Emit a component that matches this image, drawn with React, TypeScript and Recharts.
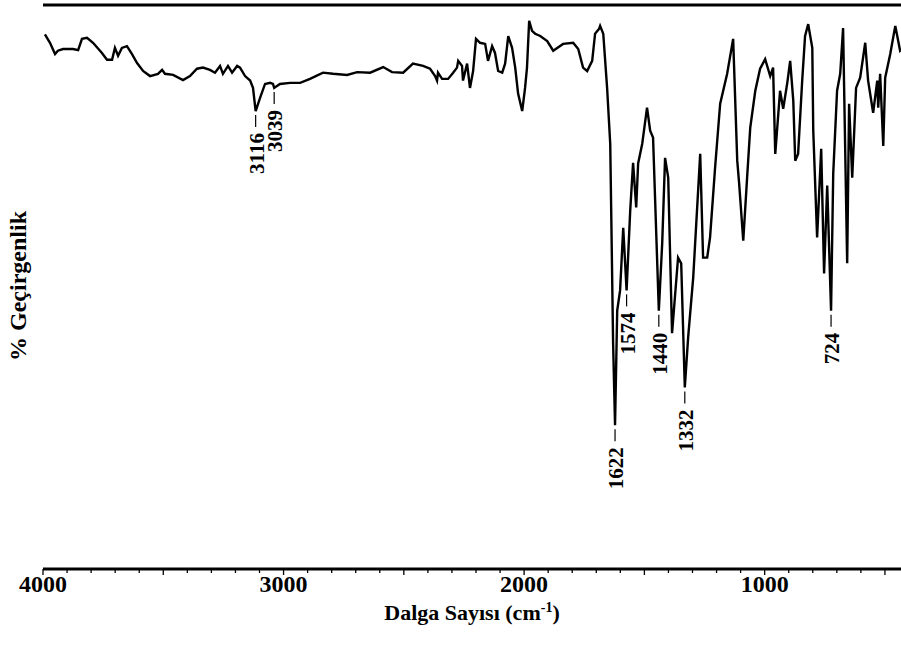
import React from 'react';
import { LineChart, Line, XAxis, YAxis, ReferenceLine, ReferenceDot, Label } from 'recharts';

const wavenumbers = [
  3992, 3971, 3950, 3938, 3917, 3875, 3854, 3838, 3817, 3792, 3755, 3734, 3713, 3701, 3688, 3672,
  3651, 3630, 3609, 3584, 3555, 3522, 3505, 3493, 3459, 3418, 3389, 3360, 3335, 3306, 3285, 3264,
  3252, 3231, 3214, 3193, 3181, 3160, 3139, 3127, 3116, 3098, 3077, 3056, 3044, 3039, 3015, 2973,
  2940, 2931, 2890, 2836, 2794, 2736, 2694, 2640, 2586, 2549, 2503, 2462, 2420, 2391, 2370, 2362,
  2358, 2341, 2316, 2295, 2279, 2274, 2258, 2254, 2237, 2225, 2212, 2200, 2183, 2162, 2150, 2133,
  2121, 2108, 2091, 2079, 2066, 2050, 2037, 2025, 2008, 1996, 1988, 1979, 1967, 1954, 1933, 1904,
  1879, 1838, 1796, 1775, 1755, 1738, 1717, 1705, 1688, 1684, 1671, 1655, 1642, 1630, 1622, 1613,
  1601, 1588, 1574, 1559, 1547, 1534, 1526, 1509, 1489, 1476, 1464, 1440, 1426, 1414, 1401, 1385,
  1360, 1347, 1332, 1318, 1297, 1268, 1256, 1239, 1227, 1206, 1185, 1156, 1131, 1114, 1106, 1089,
  1073, 1060, 1039, 1019, 998, 977, 965, 956, 936, 923, 906, 894, 881, 873, 861, 844,
  832, 819, 802, 798, 782, 765, 753, 740, 724, 715, 699, 686, 674, 657, 649, 636,
  620, 603, 582, 570, 549, 532, 528, 520, 507, 499, 478, 457, 437, 416, 400,
];

// % transmittance (relative)
const transmittance = [
  94.8, 93.3, 91.3, 91.9, 92.2, 92.2, 92.0, 94.0, 94.2, 93.3, 91.5, 90.3, 90.3, 92.4, 91.0, 92.4,
  92.7, 91.3, 89.7, 88.3, 87.4, 87.8, 88.5, 87.8, 87.6, 86.7, 87.4, 88.7, 88.9, 88.5, 88.0, 89.2,
  87.8, 89.2, 88.0, 89.2, 88.9, 87.4, 86.6, 85.3, 81.2, 83.5, 86.0, 86.2, 86.0, 85.3, 86.0, 86.2,
  86.2, 86.2, 86.9, 88.0, 87.8, 87.6, 88.1, 88.0, 89.0, 88.1, 88.0, 89.6, 89.2, 88.7, 87.4, 86.6,
  88.0, 86.9, 86.9, 88.0, 88.9, 90.1, 89.2, 86.6, 89.6, 85.3, 88.3, 94.0, 93.3, 93.1, 90.1, 92.7,
  91.5, 88.3, 88.0, 89.6, 94.5, 92.4, 88.9, 84.3, 81.2, 85.3, 88.9, 97.2, 95.4, 94.9, 94.5, 93.6,
  91.9, 93.1, 93.3, 92.2, 88.9, 88.3, 90.1, 94.9, 95.8, 96.3, 94.9, 85.3, 75.4, 40.0, 25.5, 45.8,
  49.4, 60.5, 49.4, 63.5, 72.0, 64.1, 71.9, 75.4, 81.8, 77.7, 76.5, 45.8, 57.7, 72.9, 69.4, 41.8,
  55.2, 54.2, 32.2, 41.1, 51.7, 73.6, 55.2, 55.2, 58.8, 71.2, 82.5, 87.8, 94.0, 72.4, 68.3, 58.2,
  69.4, 78.2, 84.8, 88.7, 90.4, 87.4, 88.9, 73.6, 84.8, 81.6, 86.2, 90.1, 83.0, 72.4, 73.6, 86.6,
  94.5, 96.6, 92.4, 77.7, 58.8, 74.5, 52.4, 68.0, 45.8, 70.1, 84.8, 87.8, 95.9, 54.2, 82.5, 69.4,
  85.3, 87.1, 93.3, 86.6, 80.9, 86.6, 81.8, 87.8, 75.0, 87.1, 91.3, 96.3, 91.9, 92.7, 92.2,
];

const peakLabels = [3116, 3039, 1622, 1574, 1440, 1332, 724];
const majorTicks = [4000, 3000, 2000, 1000];
const allTicks = Array.from({ length: 37 }, (_, i) => 4000 - i * 100);

const data = wavenumbers.map((w, i) => ({ w, t: transmittance[i] }));

const FONT = "'Liberation Serif', 'DejaVu Serif', serif";

const XTick = (props: any) => {
  const { x, y, payload } = props;
  const v = payload.value;
  const major = v % 500 === 0;
  return (
    <g>
      <line x1={x} x2={x} y1={y} y2={y + (major ? 6 : 4)} stroke="#000" strokeWidth={1.3} />
      {majorTicks.includes(v) && (
        <text x={x} y={y + 23} textAnchor="middle" style={{ fontFamily: FONT, fontWeight: 'bold', fontSize: 24 }} fill="#000">
          {v}
        </text>
      )}
    </g>
  );
};

const PeakMark = (props: any) => {
  const { cx, cy, label } = props;
  const ty = cy + 22;
  return (
    <g>
      <line x1={cx} x2={cx} y1={cy + 4} y2={cy + 16} stroke="#000" strokeWidth={1.2} />
      <text
        x={cx + 1}
        y={ty}
        transform={`rotate(-90 ${cx + 1} ${ty})`}
        textAnchor="end"
        dominantBaseline="central"
        style={{ fontFamily: FONT, fontWeight: 'bold', fontSize: 21 }}
        fill="#000"
      >
        {label}
      </text>
    </g>
  );
};

const XTitle = (props: any) => {
  const { viewBox } = props;
  const cx = viewBox.x + viewBox.width / 2;
  return (
    <text x={cx - 4} y={620} textAnchor="middle" style={{ fontFamily: FONT, fontWeight: 'bold', fontSize: 22 }} fill="#000">
      Dalga Sayısı (cm
      <tspan dy={-8} style={{ fontSize: 14 }}>-1</tspan>
      <tspan dy={8}>)</tspan>
    </text>
  );
};

export default function App() {
  return (
    <div style={{ position: 'absolute', left: 0, top: 0, width: 901, height: 645, overflow: 'hidden', background: '#fff' }}>
      <LineChart width={909} height={645} data={data} margin={{ top: 5, right: 0, left: 43, bottom: 0 }}>
        <XAxis
          dataKey="w"
          type="number"
          domain={[400, 4000]}
          reversed
          ticks={allTicks}
          interval={0}
          tickSize={0}
          tickMargin={0}
          tick={<XTick />}
          height={76}
          axisLine={{ stroke: '#000', strokeWidth: 3 }}
        >
          <Label content={<XTitle />} />
        </XAxis>
        <YAxis domain={[0, 100]} width={0} tick={false} tickLine={false} axisLine={{ stroke: '#000', strokeWidth: 3 }} />
        <ReferenceLine y={100} stroke="#000" strokeWidth={3} />
        <Line type="linear" dataKey="t" stroke="#000" strokeWidth={2.4} dot={false} isAnimationActive={false} />
        {peakLabels.map((p) => {
          const pt = data.find((d) => d.w === p);
          return (
            <ReferenceDot
              key={p}
              x={p}
              y={pt ? pt.t : 50}
              r={0}
              shape={(s: any) => <PeakMark {...s} label={p} />}
            />
          );
        })}
      </LineChart>
      <svg width={40} height={645} style={{ position: 'absolute', left: 0, top: 0 }}>
        <text
          x={18}
          y={286}
          transform="rotate(-90 18 286)"
          textAnchor="middle"
          dominantBaseline="central"
          style={{ fontFamily: FONT, fontWeight: 'bold', fontSize: 24 }}
          fill="#000"
        >
          % Geçirgenlik
        </text>
      </svg>
    </div>
  );
}
